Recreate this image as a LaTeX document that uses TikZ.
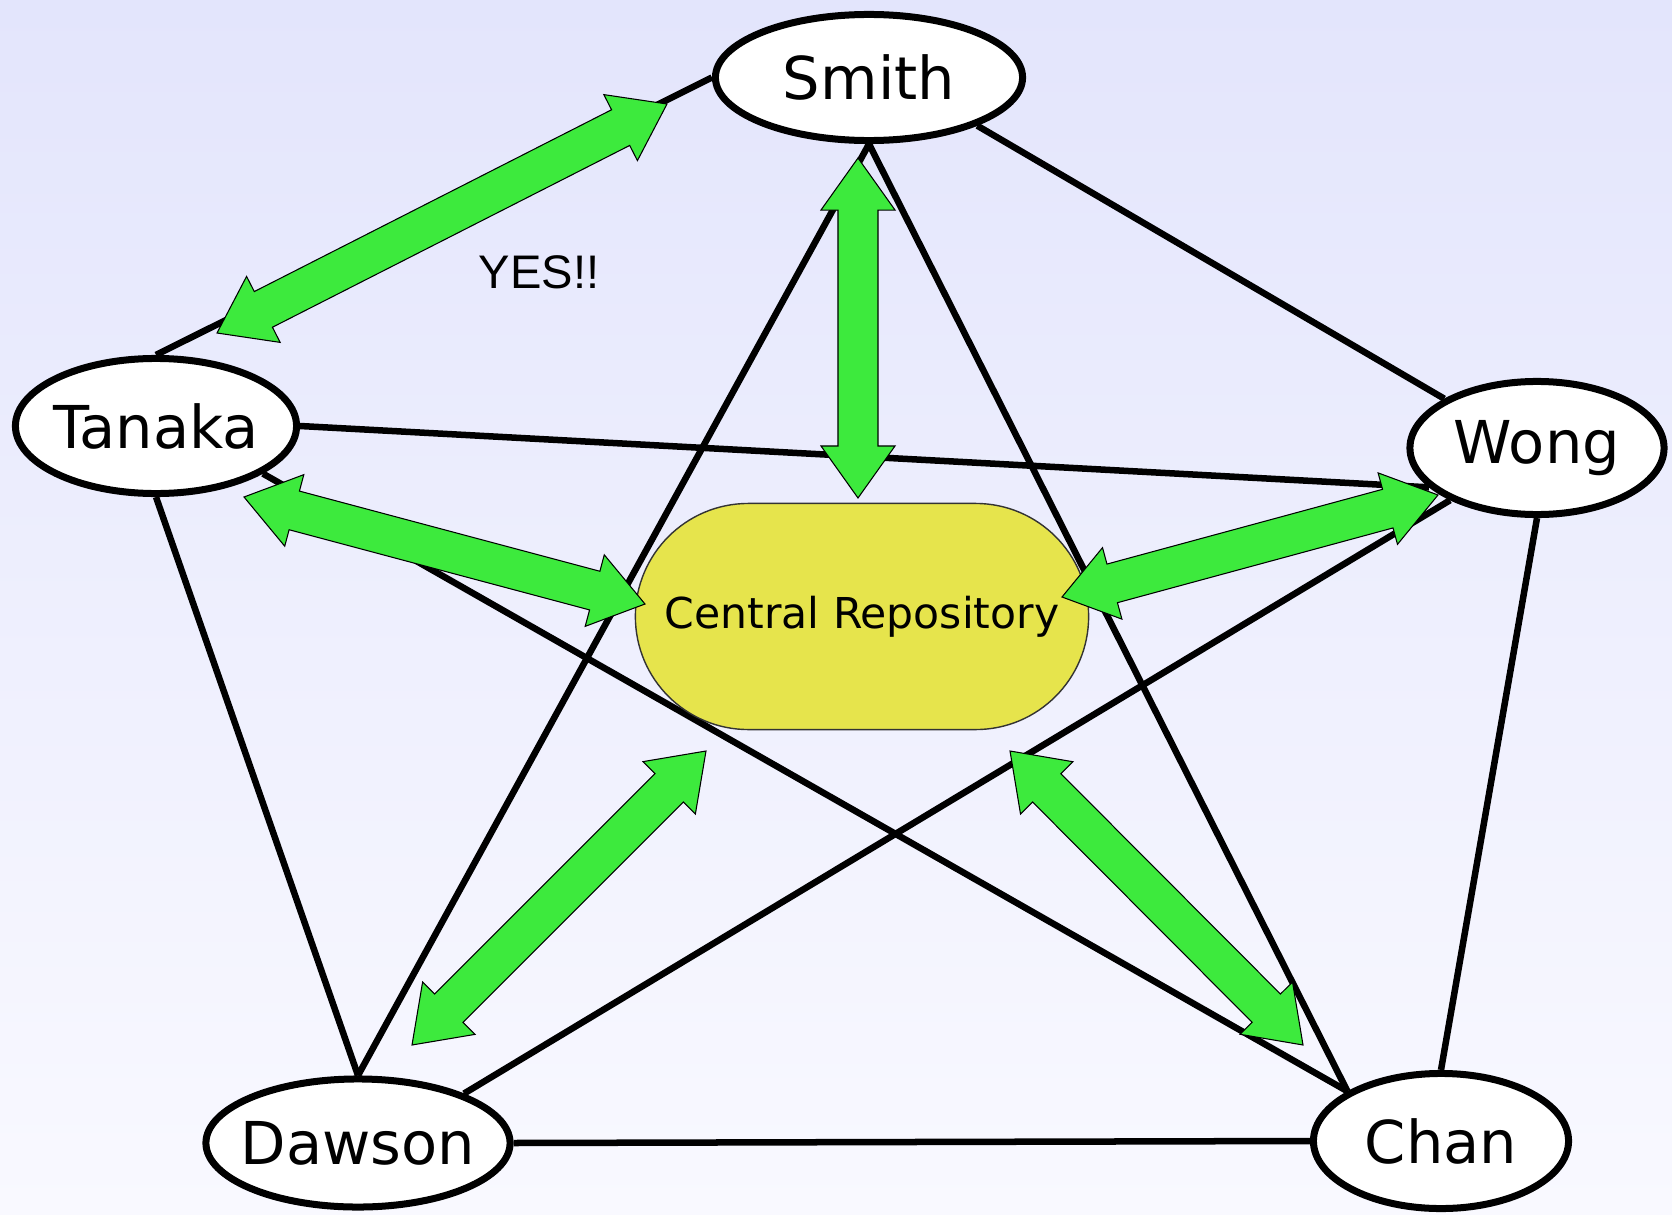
\documentclass[tikz,border=0pt]{standalone}
\usepackage{fontspec}
\setmainfont{DejaVu Sans}
\newfontfamily\yesfont{Liberation Sans}
\usetikzlibrary{shapes.geometric, calc}

\definecolor{bgtop}{RGB}{227,229,252}
\definecolor{bgbottom}{RGB}{249,249,255}
\definecolor{pushgreen}{RGB}{61,234,61}
\definecolor{repoyellow}{RGB}{230,228,76}

% double headed block arrow between two named points
\newcommand{\pusharrow}[2]{%
  \filldraw[arrowbody] (#1)
    -- ($(#1)!0.52cm!(#2)!0.37cm!90:(#2)$)
    -- ($(#1)!0.52cm!(#2)!0.2cm!90:(#2)$)
    -- ($(#2)!0.52cm!(#1)!0.2cm!-90:(#1)$)
    -- ($(#2)!0.52cm!(#1)!0.37cm!-90:(#1)$)
    -- (#2)
    -- ($(#2)!0.52cm!(#1)!0.37cm!90:(#1)$)
    -- ($(#2)!0.52cm!(#1)!0.2cm!90:(#1)$)
    -- ($(#1)!0.52cm!(#2)!0.2cm!-90:(#2)$)
    -- ($(#1)!0.52cm!(#2)!0.37cm!-90:(#2)$)
    -- cycle;}

\begin{document}
\begin{tikzpicture}[x=0.01cm, y=-0.01cm]
\tikzstyle{dev}=[ellipse, draw, line width=0.07cm, fill=white,
                        inner xsep=-0.8cm, inner ysep=0pt, font=\fontsize{16.8}{18}\selectfont]
\tikzstyle{link}=[line width=0.065cm]
\tikzstyle{arrowbody}=[draw=black, fill=pushgreen, line width=0.3pt]
\tikzstyle{repo}=[rectangle, rounded corners=1.13cm, draw=black!80, line width=0.4pt,
                        fill=repoyellow, minimum width=4.53cm, minimum height=2.26cm,
                        font=\fontsize{12.1}{14}\selectfont]
\fill[top color=bgtop, bottom color=bgbottom] (0,0) rectangle (1672,1215);

	\node[dev, minimum width=3.07cm, minimum height=1.26cm] (Sm) at (869,77.5){Smith};
	\node[dev, minimum width=2.81cm, minimum height=1.35cm] (Ta) at (156,426){Tanaka};
	\node[dev, minimum width=2.54cm, minimum height=1.33cm] (Wo) at (1537,448){Wong};
	\node[dev, minimum width=3.04cm, minimum height=1.28cm] (Da) at (358,1143){Dawson};
	\node[dev, minimum width=2.55cm, minimum height=1.35cm] (Ch) at (1441,1141){Chan};

\draw[link] (Sm.west)--(Ta.north);
\draw[link] (Sm.-24)--(Wo.152);
\draw[link] (Sm.south)--(Da.north);
\draw[link] (Sm.south)--(Ch.152);
\draw[link] (Ta.east)--(Wo.200);
\draw[link] (Ta.-24)--(Ch.152);
\draw[link] (Ta.south)--(Da.north);
\draw[link] (Da.25)--(Wo.211);
\draw[link] (Da.east)--(Ch.west);
\draw[link] (Wo.south)--(Ch.north);

	\node[repo] (Re) at (862,616.5){Central Repository};
	\node[font=\yesfont\fontsize{13.4}{15}\selectfont, inner sep=0pt] (yes) at (539,272){YES!!};

% arrow tips
	\coordinate (smA) at (667,104);
	\coordinate (taA) at (217,333);
	\coordinate (smB) at (858,158);
	\coordinate (reA) at (858,498);
	\coordinate (taB) at (244,497);
	\coordinate (reB) at (645,604);
	\coordinate (woA) at (1438,495);
	\coordinate (reC) at (1062,597);
	\coordinate (reD) at (706,751);
	\coordinate (daA) at (412,1045);
	\coordinate (reE) at (1010,751);
	\coordinate (chA) at (1303,1045);

\pusharrow{smA}{taA}
\pusharrow{smB}{reA}
\pusharrow{taB}{reB}
\pusharrow{woA}{reC}
\pusharrow{reD}{daA}
\pusharrow{reE}{chA}
\end{tikzpicture}
\end{document}
